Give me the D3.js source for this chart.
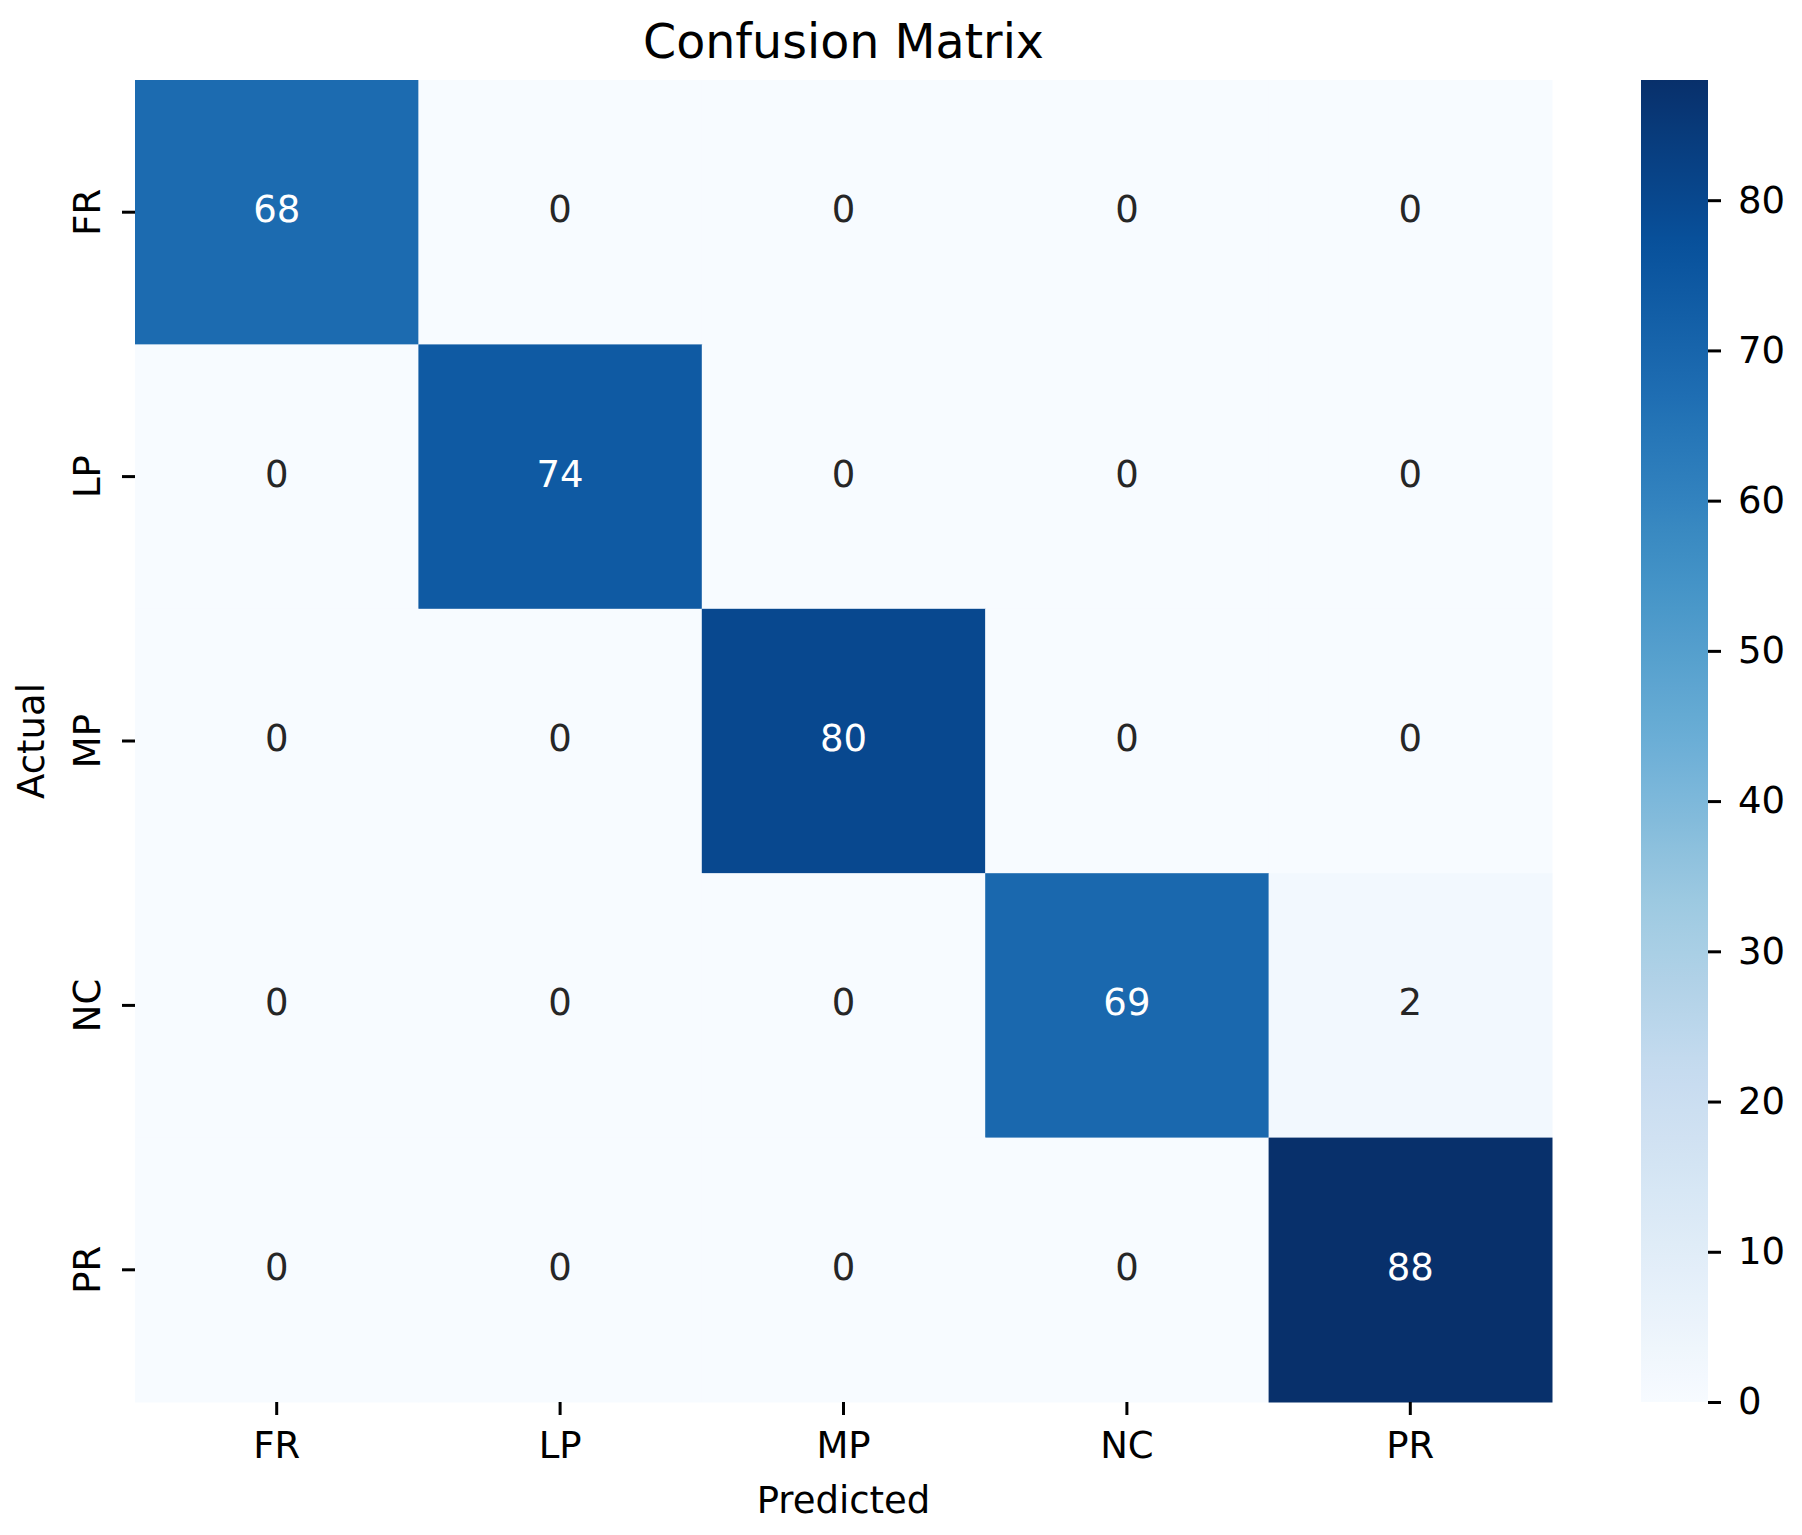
<!DOCTYPE html>
<html>
<head>
<meta charset="utf-8">
<script src="https://cdn.jsdelivr.net/npm/d3@7"></script>
<style>
  html, body { margin: 0; padding: 0; background: #ffffff; }
  svg { display: block; }
  text { font-family: "DejaVu Sans", sans-serif; }
</style>
</head>
<body>
<svg id="chart" width="1802" height="1535"></svg>
<script>
// ---- data ----
const predictedLabels = ["FR", "LP", "MP", "NC", "PR"];
const actualLabels = ["FR", "LP", "MP", "NC", "PR"];
const rowFR = [68, 0, 0, 0, 0];
const rowLP = [0, 74, 0, 0, 0];
const rowMP = [0, 0, 80, 0, 0];
const rowNC = [0, 0, 0, 69, 2];
const rowPR = [0, 0, 0, 0, 88];
const colorbarTicks = [0, 10, 20, 30, 40, 50, 60, 70, 80];
const titleText = "Confusion Matrix";
const xTitle = "Predicted";
const yTitle = "Actual";

// matplotlib "Blues" colormap anchors
const bluesStops = ["#f7fbff", "#deebf7", "#c6dbef", "#9ecae1", "#6baed6",
                    "#4292c6", "#2171b5", "#08519c", "#08306b"];

(function () {
const matrix = [rowFR, rowLP, rowMP, rowNC, rowPR];
const cells = [];
matrix.forEach((row, i) => row.forEach((v, j) => cells.push({ actual: actualLabels[i], predicted: predictedLabels[j], value: v })));

const vmin = 0;
const vmax = d3.max(cells, d => d.value);

// ---- layout ----
const mLeft = 135, mRight = 1552, mTop = 80, mBottom = 1402;
const cbLeft = 1641, cbRight = 1708;
const tickFont = 37;

const svg = d3.select("#chart");

const x = d3.scaleBand().domain(predictedLabels).range([mLeft, mRight]).padding(0);
const y = d3.scaleBand().domain(actualLabels).range([mTop, mBottom]).padding(0);

const color = d3.scaleLinear()
  .domain(bluesStops.map((_, i) => vmin + (vmax - vmin) * i / (bluesStops.length - 1)))
  .range(bluesStops)
  .interpolate(d3.interpolateRgb)
  .clamp(true);

function relLum(c) {
  const rgb = d3.rgb(c);
  const f = v => { v /= 255; return v <= 0.03928 ? v / 12.92 : Math.pow((v + 0.055) / 1.055, 2.4); };
  return 0.2126 * f(rgb.r) + 0.7152 * f(rgb.g) + 0.0722 * f(rgb.b);
}

// cells
svg.append("g").selectAll("rect").data(cells).join("rect")
  .attr("x", d => x(d.predicted))
  .attr("y", d => y(d.actual))
  .attr("width", x.bandwidth() + 0.5)
  .attr("height", y.bandwidth() + 0.5)
  .attr("fill", d => color(d.value));

// annotations
svg.append("g").selectAll("text").data(cells).join("text")
  .attr("x", d => x(d.predicted) + x.bandwidth() / 2)
  .attr("y", d => y(d.actual) + y.bandwidth() / 2)
  .attr("dy", "0.27em")
  .attr("text-anchor", "middle")
  .attr("font-size", tickFont)
  .attr("fill", d => relLum(color(d.value)) < 0.408 ? "#ffffff" : "#262626")
  .text(d => d.value);

// x axis
const xAxis = svg.append("g")
  .attr("transform", `translate(0,${mBottom})`)
  .call(d3.axisBottom(x).tickSize(13).tickPadding(17));
xAxis.select(".domain").remove();
xAxis.selectAll(".tick line").attr("stroke", "#000").attr("stroke-width", 3);
xAxis.selectAll(".tick text").attr("font-size", tickFont).attr("fill", "#000")
  .attr("font-family", "DejaVu Sans");

// y axis
const yAxis = svg.append("g")
  .attr("transform", `translate(${mLeft},0)`)
  .call(d3.axisLeft(y).tickSize(13).tickPadding(12));
yAxis.select(".domain").remove();
yAxis.selectAll(".tick line").attr("stroke", "#000").attr("stroke-width", 3);
yAxis.selectAll(".tick text")
  .attr("font-size", tickFont).attr("fill", "#000").attr("font-family", "DejaVu Sans")
  .attr("x", null).attr("dy", null)
  .attr("text-anchor", "middle")
  .attr("transform", "translate(-35,0) rotate(-90)")
  .attr("y", 0);

// title & axis labels
svg.append("text")
  .attr("x", (mLeft + mRight) / 2).attr("y", 58)
  .attr("text-anchor", "middle").attr("font-size", 47.5).attr("fill", "#000")
  .text(titleText);

svg.append("text")
  .attr("x", (mLeft + mRight) / 2).attr("y", 1513)
  .attr("text-anchor", "middle").attr("font-size", tickFont).attr("fill", "#000")
  .text(xTitle);

svg.append("text")
  .attr("transform", `translate(44,${(mTop + mBottom) / 2}) rotate(-90)`)
  .attr("text-anchor", "middle").attr("font-size", tickFont).attr("fill", "#000")
  .text(yTitle);

// colorbar
const cbScale = d3.scaleLinear().domain([vmin, vmax]).range([mBottom, mTop]);
const defs = svg.append("defs");
const grad = defs.append("linearGradient").attr("id", "cbgrad")
  .attr("x1", 0).attr("y1", 1).attr("x2", 0).attr("y2", 0);
grad.selectAll("stop").data(d3.range(0, 1.0001, 0.02)).join("stop")
  .attr("offset", t => t)
  .attr("stop-color", t => color(vmin + t * (vmax - vmin)));

svg.append("rect")
  .attr("x", cbLeft).attr("y", mTop)
  .attr("width", cbRight - cbLeft).attr("height", mBottom - mTop)
  .attr("fill", "url(#cbgrad)");

const cbAxis = svg.append("g")
  .attr("transform", `translate(${cbRight},0)`)
  .call(d3.axisRight(cbScale).tickValues(colorbarTicks).tickSize(13).tickPadding(17).tickFormat(d3.format("d")));
cbAxis.select(".domain").remove();
cbAxis.selectAll(".tick line").attr("stroke", "#000").attr("stroke-width", 3);
cbAxis.selectAll(".tick text").attr("font-size", tickFont).attr("fill", "#000")
  .attr("font-family", "DejaVu Sans");
})();
</script>
</body>
</html>
